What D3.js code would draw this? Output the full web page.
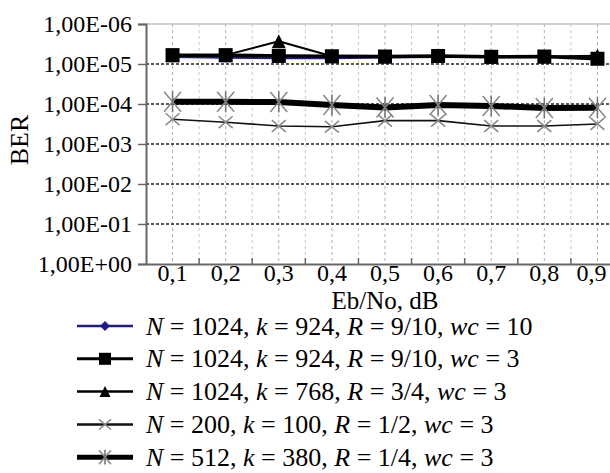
<!DOCTYPE html>
<html>
<head>
<meta charset="utf-8">
<script src="https://cdn.jsdelivr.net/npm/d3@7"></script>
<style>
  body { margin: 0; background: #fff; }
  text { font-family: "Liberation Serif", "Times New Roman", serif; fill: #000; }
</style>
</head>
<body>
<script>
// Eb/No values (x categories)
var ebno = ["0,1", "0,2", "0,3", "0,4", "0,5", "0,6", "0,7", "0,8", "0,9"];
var berTicks = [1e-6, 1e-5, 1e-4, 1e-3, 1e-2, 1e-1, 1];

// BER per series
var ber1024wc10 = [6.7e-6, 7.0e-6, 7.2e-6, 7.2e-6, 6.9e-6, 6.7e-6, 6.8e-6, 6.7e-6, 6.9e-6];
var ber1024wc3 = [6.0e-6, 6.0e-6, 6.3e-6, 6.4e-6, 6.5e-6, 6.3e-6, 6.6e-6, 6.5e-6, 7.4e-6];
var ber768wc3 = [6.0e-6, 6.0e-6, 2.7e-6, 6.4e-6, 6.5e-6, 6.3e-6, 6.6e-6, 6.5e-6, 6.2e-6];
var ber200wc3 = [2.4e-4, 2.85e-4, 3.55e-4, 3.7e-4, 2.6e-4, 2.6e-4, 3.55e-4, 3.55e-4, 3.15e-4];
var ber512wc3 = [8.8e-5, 8.8e-5, 8.9e-5, 1.06e-4, 1.22e-4, 1.06e-4, 1.12e-4, 1.26e-4, 1.24e-4];

var labels = [
    "N = 1024, k = 924, R = 9/10, wc = 10",
    "N = 1024, k = 924, R = 9/10, wc = 3",
    "N = 1024, k = 768, R = 3/4, wc = 3",
    "N = 200, k = 100, R = 1/2, wc = 3",
    "N = 512, k = 380, R = 1/4, wc = 3"
];

var series = [
    { values: ber1024wc10, color: "#1c1c8a", width: 2, marker: "diamond", size: 9 },
    { values: ber1024wc3, color: "#000", width: 3.5, marker: "square", size: 14 },
    { values: ber768wc3, color: "#000", width: 2, marker: "triangle", size: 14 },
    { values: ber200wc3, color: "#111", width: 1.6, marker: "x", size: 14 },
    { values: ber512wc3, color: "#000", width: 6, marker: "asterisk", size: 20 }
];

var margin = { top: 24, left: 146 },
    plotW = 478,
    plotH = 240;

var svg = d3.select("body")
    .append("svg")
    .attr("width", 610)
    .attr("height", 473);

var x = d3.scaleBand()
    .domain(ebno)
    .range([margin.left, margin.left + plotW])
    .padding(0);

var y = d3.scaleLog()
    .domain([1e-6, 1])
    .range([margin.top, margin.top + plotH]);

function cx(i) { return x(ebno[i]) + x.bandwidth() / 2; }

function sciLabel(v) {
    var e = Math.round(Math.log10(v));
    var s = e < 0 ? "-" : "+";
    var a = Math.abs(e);
    return "1,00E" + s + (a < 10 ? "0" : "") + a;
}

// vertical grid: band centres and band edges
var grid = svg.append("g");
ebno.forEach(function (d, i) {
    grid.append("line")
        .attr("x1", cx(i)).attr("x2", cx(i))
        .attr("y1", margin.top).attr("y2", margin.top + plotH)
        .attr("stroke", "#b0b0b0").attr("stroke-width", 1)
        .attr("stroke-dasharray", "3,3");
    if (i > 0) {
        grid.append("line")
            .attr("x1", x(d)).attr("x2", x(d))
            .attr("y1", margin.top).attr("y2", margin.top + plotH)
            .attr("stroke", "#c8c8c8").attr("stroke-width", 1)
            .attr("stroke-dasharray", "3,3");
    }
});

// horizontal grid
grid.selectAll(".hg")
    .data(berTicks.slice(1, -1))
    .enter().append("line")
    .attr("x1", margin.left).attr("x2", margin.left + plotW)
    .attr("y1", function (d) { return y(d); })
    .attr("y2", function (d) { return y(d); })
    .attr("stroke", "#222").attr("stroke-width", 1.3)
    .attr("stroke-dasharray", "3,2");

// top border
svg.append("line")
    .attr("x1", margin.left).attr("x2", margin.left + plotW)
    .attr("y1", margin.top).attr("y2", margin.top)
    .attr("stroke", "#c0c0c0").attr("stroke-width", 1.5);

// y axis
var yAxis = svg.append("g")
    .attr("transform", "translate(" + margin.left + ",0)")
    .call(d3.axisLeft(y).tickValues(berTicks).tickFormat(sciLabel).tickSize(8).tickPadding(6));
yAxis.select(".domain").attr("stroke", "#666").attr("stroke-width", 2);
yAxis.selectAll(".tick line").attr("stroke", "#666").attr("stroke-width", 1.5);
yAxis.selectAll("text").attr("font-size", 24).attr("fill", "#000");

// x axis
var xAxis = svg.append("g")
    .attr("transform", "translate(0," + (margin.top + plotH) + ")")
    .call(d3.axisBottom(x).tickSize(0).tickPadding(0));
xAxis.select(".domain").attr("stroke", "#666").attr("stroke-width", 2);
xAxis.selectAll("text").attr("font-size", 24).attr("fill", "#000");
// last label sits a little left so it stays inside the frame
xAxis.selectAll(".tick text").filter(function (d) { return d === ebno[ebno.length - 1]; })
    .attr("dx", -6);
xAxis.selectAll(".bt")
    .data(ebno.slice(1))
    .enter().append("line")
    .attr("x1", function (d) { return x(d); })
    .attr("x2", function (d) { return x(d); })
    .attr("y1", 0).attr("y2", -6)
    .attr("stroke", "#666").attr("stroke-width", 1.5);

// axis titles
svg.append("text")
    .attr("x", margin.left + plotW / 2)
    .attr("y", 309)
    .attr("text-anchor", "middle")
    .attr("font-size", 25)
    .text("Eb/No, dB");

svg.append("text")
    .attr("transform", "translate(28," + (margin.top + plotH / 2 - 4) + ") rotate(-90)")
    .attr("text-anchor", "middle")
    .attr("font-size", 26)
    .text("BER");

// marker drawing
function drawMarker(g, type, size, color) {
    var h = size / 2;
    if (type === "diamond") {
        g.append("path").attr("d", "M0," + (-h) + "L" + h + ",0L0," + h + "L" + (-h) + ",0Z")
            .attr("fill", color);
    } else if (type === "square") {
        g.append("rect").attr("x", -h).attr("y", -h).attr("width", size).attr("height", size)
            .attr("fill", "#000");
    } else if (type === "triangle") {
        g.append("path").attr("d", "M0," + (-h) + "L" + h + "," + h + "L" + (-h) + "," + h + "Z")
            .attr("fill", "#000");
    } else if (type === "x") {
        g.append("path").attr("d", "M" + (-h) + "," + (-h * 0.85) + "L" + h + "," + (h * 0.85) +
            "M" + (-h) + "," + (h * 0.85) + "L" + h + "," + (-h * 0.85))
            .attr("stroke", "#8a8a8a").attr("stroke-width", 1.6).attr("fill", "none");
    } else if (type === "asterisk") {
        g.append("path").attr("d", "M" + (-h * 0.85) + "," + (-h) + "L" + (h * 0.85) + "," + h +
            "M" + (-h * 0.85) + "," + h + "L" + (h * 0.85) + "," + (-h))
            .attr("stroke", "#8a8a8a").attr("stroke-width", 1.6).attr("fill", "none");
        g.append("path").attr("d", "M0," + (-h * 1.05) + "L0," + (h * 1.05))
            .attr("stroke", "#777").attr("stroke-width", 1.6);
    }
}

var line = d3.line()
    .x(function (d, i) { return cx(i); })
    .y(function (d) { return y(d); });

series.forEach(function (s) {
    var g = svg.append("g");
    g.append("path")
        .datum(s.values)
        .attr("d", line)
        .attr("fill", "none")
        .attr("stroke", s.color)
        .attr("stroke-width", s.width)
        .attr("stroke-linejoin", "round");
    s.values.forEach(function (v, i) {
        var m = g.append("g").attr("transform", "translate(" + cx(i) + "," + y(v) + ")");
        drawMarker(m, s.marker, s.size, s.color);
    });
});

// legend
var legend = svg.append("g");
labels.forEach(function (lab, i) {
    var s = series[i];
    var ly = 326 + i * 32.8;
    legend.append("line")
        .attr("x1", 77).attr("x2", 133)
        .attr("y1", ly).attr("y2", ly)
        .attr("stroke", s.color)
        .attr("stroke-width", i === 4 ? 5 : (i === 1 ? 3 : 2.5));
    var m = legend.append("g").attr("transform", "translate(105," + ly + ")");
    var legSize = [10, 12, 11, 12, 14][i];
    drawMarker(m, s.marker, legSize, s.color);

    var t = legend.append("text")
        .attr("x", 146)
        .attr("y", ly + 8.5)
        .attr("font-size", 26);
    lab.split(/(N|k|R|wc)(?= =)/).forEach(function (part) {
        if (!part) return;
        var isVar = /^(N|k|R|wc)$/.test(part);
        t.append("tspan")
            .attr("font-style", isVar ? "italic" : "normal")
            .text(part);
    });
});
</script>
</body>
</html>
